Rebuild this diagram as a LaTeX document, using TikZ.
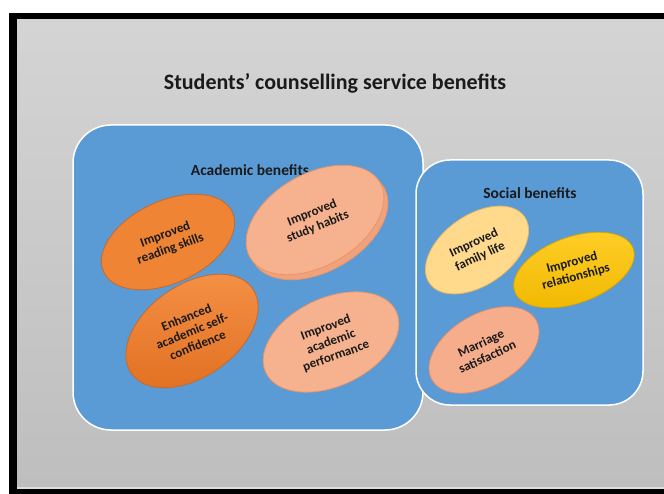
\documentclass[tikz,border=0pt]{standalone}
\usepackage{fontspec}
\setmainfont{Carlito}
\usetikzlibrary{shapes.geometric}
\definecolor{bluebox}{HTML}{5A9BD5}
\definecolor{orgfill}{HTML}{EE8434}
\definecolor{orgline}{HTML}{C8682A}
\definecolor{orgtop}{HTML}{F49146}
\definecolor{orgbot}{HTML}{E27022}
\definecolor{salfill}{HTML}{F6B28E}
\definecolor{salline}{HTML}{E8956A}
\definecolor{salback}{HTML}{EFA27C}
\definecolor{famfill}{HTML}{FFD98C}
\definecolor{famline}{HTML}{E8B860}
\definecolor{goldtop}{HTML}{FFCE28}
\definecolor{goldbot}{HTML}{F0B800}
\definecolor{goldline}{HTML}{D9A400}
\definecolor{marfill}{HTML}{F5AD8C}
\definecolor{marline}{HTML}{E08E6A}
\definecolor{txt}{HTML}{1A1A1A}
\definecolor{bgtop}{HTML}{D4D4D4}
\definecolor{bgbot}{HTML}{BEBEBE}
\definecolor{bgline}{HTML}{DEDEDE}
\tikzset{
  groupbox/.style={fill=bluebox, draw=white, line width=1.5pt, rounded corners=38pt, inner sep=0pt},
  oval/.style={ellipse, inner sep=0pt, line width=0.8pt},
  ovaltext/.style={font=\bfseries\fontsize{13}{15}\selectfont, text=txt, align=center, inner sep=0pt},
  grouptitle/.style={font=\bfseries\fontsize{15.5}{17}\selectfont, text=txt, inner sep=0pt},
}
\begin{document}
\begin{tikzpicture}[x=1pt,y=-1pt]
\useasboundingbox (0,0) rectangle (664,494);
\fill[white] (0,0) rectangle (664,494);
\fill[black] (9,13) rectangle (664,494);
\shade[top color=bgtop, bottom color=bgbot] (17,20) rectangle (664,487);
\fill[bgline] (17,487) rectangle (664,489);

\node[font=\bfseries\fontsize{22}{24}\selectfont, text=txt] (title) at (335,83) {Students’ counselling service benefits};

% group boxes
\node[groupbox, minimum width=350pt, minimum height=305pt] (acad) at (248,277.5) {};
\node[groupbox, minimum width=227pt, minimum height=245pt, rounded corners=34pt] (soc) at (529.5,282.5) {};
\node[grouptitle] (acadt) at (250,170) {Academic benefits};
\node[grouptitle] (soct) at (530,193) {Social benefits};

% academic ovals
\node[oval, fill=orgfill, draw=orgline, minimum width=142pt, minimum height=82pt, rotate=25] (read) at (168,242) {};
\node[ovaltext, rotate=20] at (read.center) {Improved\\reading skills};

\node[oval, fill=salback, draw=salline, minimum width=150pt, minimum height=92pt, rotate=30] (studyback) at (319,225) {};
\node[oval, fill=salfill, draw=salline, minimum width=150pt, minimum height=92pt, rotate=30] (study) at (315,220) {};
\node[ovaltext, rotate=22] at (study.center) {Improved\\study habits};

\node[oval, top color=orgtop, bottom color=orgbot, draw=orgline, minimum width=148pt, minimum height=92pt, rotate=35] (conf) at (192,331) {};
\node[ovaltext, rotate=22] at (conf.center) {Enhanced\\academic self-\\confidence};

\node[oval, fill=salfill, draw=salline, minimum width=144pt, minimum height=88pt, rotate=25] (perf) at (331,342) {};
\node[ovaltext, rotate=20] at (perf.center) {Improved\\academic\\performance};

% social ovals
\node[oval, fill=famfill, draw=famline, minimum width=116pt, minimum height=70pt, rotate=35] (fam) at (477,250) {};
\node[ovaltext, rotate=25] at (fam.center) {Improved\\family life};

\node[oval, top color=goldtop, bottom color=goldbot, draw=goldline, minimum width=126pt, minimum height=66pt, rotate=20] (rel) at (574,270) {};
\node[ovaltext, rotate=15] at (rel.center) {Improved\\relationships};

\node[oval, fill=marfill, draw=marline, minimum width=120pt, minimum height=72pt, rotate=30] (mar) at (484,350) {};
\node[ovaltext, rotate=25] at (mar.center) {Marriage\\satisfaction};
\end{tikzpicture}
\end{document}
